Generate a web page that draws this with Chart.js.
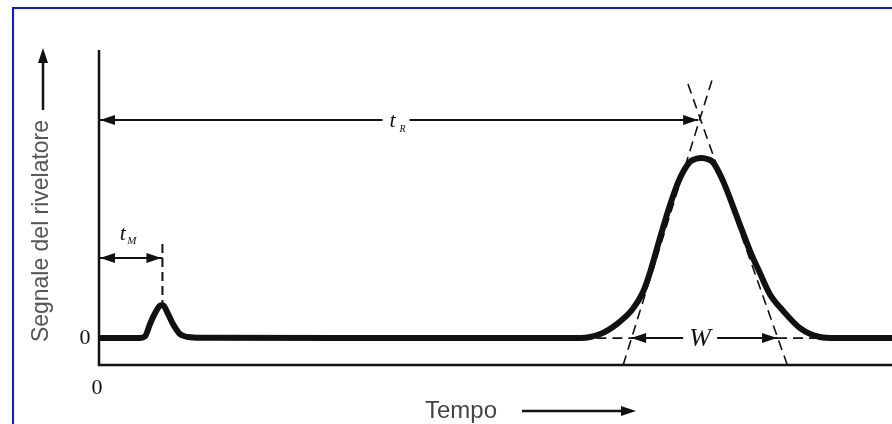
<!DOCTYPE html>
<html>
<head>
<meta charset="utf-8">
<script src="https://cdn.jsdelivr.net/npm/chart.js@4.4.0/dist/chart.umd.min.js"></script>
<style>
  html, body { margin: 0; padding: 0; background: #fff; }
  #wrap { position: relative; width: 892px; height: 424px; overflow: hidden; }
  #frame { position: absolute; left: 12px; top: 7px; width: 900px; height: 430px;
           border-top: 2px solid #0a14ff; border-left: 2px solid #0a14ff; }
  canvas { display: block; position: absolute; left: 0; top: 0; }
</style>
</head>
<body>
<div id="wrap">
  <div id="frame"></div>
  <canvas id="chart" width="892" height="424"></canvas>
</div>
<script>
// detector trace (time 0-100, signal 0 = baseline)
const time   = [0, 5.17, 5.8, 6.43, 7.06, 7.8, 8.07, 8.7, 9.33, 10.2, 11.2, 13, 30,
                60.7, 63.2, 65.3, 67.3, 68.6, 69.5, 70.7, 72.0, 73.2, 74.5, 75.3, 76.0, 76.8, 77.4, 78.7, 80.5, 82.1, 83.4, 84.6, 86.3, 88.4, 90.9, 92.8, 100];
const signal = [0, 0, 0.6, 5.2, 9.2, 12.2, 12.2, 9, 5.2, 1.5, 0.4, 0.1, 0,
                0, 1.5, 5.2, 10.8, 17.1, 24.5, 36.8, 49.4, 59, 65.4, 66.6, 66.9, 66.4, 65.4, 58.3, 44.6, 32.3, 23.8, 16.3, 10, 3.7, 0.4, 0, 0];

// tangents drawn on the big peak
const leftTangentX  = [66.1, 77.3];
const leftTangentY  = [-10, 95.8];
const rightTangentX = [86.8, 74.1];
const rightTangentY = [-10, 95.8];

// marked times and label heights
const tM = 8.0;
const tR = 75.8;
const tMArrowLevel = 29.7;
const tRArrowLevel = 81;
const wLeft = 67.1;
const wRight = 85.5;
const peakStart = 60.7;
const peakEnd = 90.9;

const ink = '#111';

function head(ctx, x, y, dir) {
  // filled arrow head, tip at (x,y); dir: 'l','r','u'
  ctx.beginPath();
  if (dir === 'l') { ctx.moveTo(x, y); ctx.lineTo(x + 15, y - 5); ctx.lineTo(x + 15, y + 5); }
  if (dir === 'r') { ctx.moveTo(x, y); ctx.lineTo(x - 15, y - 5); ctx.lineTo(x - 15, y + 5); }
  if (dir === 'u') { ctx.moveTo(x, y); ctx.lineTo(x - 5, y + 15); ctx.lineTo(x + 5, y + 15); }
  ctx.closePath();
  ctx.fill();
}

function hline(ctx, x1, x2, y, w) {
  ctx.lineWidth = w;
  ctx.beginPath(); ctx.moveTo(x1, y); ctx.lineTo(x2, y); ctx.stroke();
}

const annotations = {
  id: 'annotations',
  afterDatasetsDraw(chart) {
    const ctx = chart.ctx;
    const xs = chart.scales.x, ys = chart.scales.y;
    const area = chart.chartArea;
    ctx.save();
    ctx.strokeStyle = ink;
    ctx.fillStyle = ink;

    // axes
    ctx.lineWidth = 2.5;
    ctx.beginPath();
    ctx.moveTo(area.left, area.top);
    ctx.lineTo(area.left, area.bottom);
    ctx.lineTo(area.right, area.bottom);
    ctx.stroke();

    const y0 = ys.getPixelForValue(0);
    ctx.font = '22px "Liberation Serif"';
    ctx.textAlign = 'center';
    ctx.textBaseline = 'middle';
    ctx.fillText('0', area.left - 14, y0);
    ctx.fillText('0', area.left - 2, area.bottom + 23);

    // t_M
    const xM = xs.getPixelForValue(tM);
    const yM = ys.getPixelForValue(tMArrowLevel);
    hline(ctx, area.left, xM, yM, 2);
    head(ctx, area.left + 1, yM, 'l');
    head(ctx, xM - 1, yM, 'r');
    ctx.lineWidth = 2;
    ctx.setLineDash([9, 5]);
    ctx.beginPath();
    ctx.moveTo(xM, yM - 14);
    ctx.lineTo(xM, ys.getPixelForValue(13));
    ctx.stroke();
    ctx.setLineDash([]);
    ctx.font = 'italic 22px "Liberation Serif"';
    ctx.fillText('t', (area.left + xM) / 2 - 8, yM - 24);
    ctx.font = 'italic 11px "Liberation Serif"';
    ctx.fillText('M', (area.left + xM) / 2 + 1, yM - 17);

    // t_R
    const xR = xs.getPixelForValue(tR);
    const yR = ys.getPixelForValue(tRArrowLevel);
    const midR = (area.left + xR) / 2 - 4;
    hline(ctx, area.left, midR - 13, yR, 2);
    hline(ctx, midR + 14, xR - 2, yR, 2);
    head(ctx, area.left + 1, yR, 'l');
    head(ctx, xR - 2, yR, 'r');
    ctx.font = 'italic 22px "Liberation Serif"';
    ctx.fillText('t', midR - 3, yR + 1);
    ctx.font = 'italic 10px "Liberation Serif"';
    ctx.fillText('R', midR + 7, yR + 9);

    // W
    const xWl = xs.getPixelForValue(wLeft);
    const xWr = xs.getPixelForValue(wRight);
    const xWc = xs.getPixelForValue(tR);
    ctx.setLineDash([10, 6]);
    hline(ctx, xs.getPixelForValue(peakStart), xWl, y0, 1.6);
    hline(ctx, xWr, xs.getPixelForValue(peakEnd), y0, 1.6);
    ctx.setLineDash([]);
    hline(ctx, xWl, xWc - 17, y0, 2);
    hline(ctx, xWc + 17, xWr, y0, 2);
    head(ctx, xWl, y0, 'l');
    head(ctx, xWr, y0, 'r');
    ctx.font = 'italic 26px "Liberation Serif"';
    ctx.fillText('W', xWc, y0 + 1);

    // axis titles
    ctx.fillStyle = '#555';
    ctx.font = '24px "Liberation Sans"';
    const yTitle = 'Segnale del rivelatore';
    const k = 222 / ctx.measureText(yTitle).width;
    ctx.save();
    ctx.translate(41, 231);
    ctx.rotate(-Math.PI / 2);
    ctx.scale(k, 1);
    ctx.fillText(yTitle, 0, 0);
    ctx.restore();
    ctx.fillStyle = ink;
    ctx.lineWidth = 2.5;
    ctx.beginPath(); ctx.moveTo(43, 110); ctx.lineTo(43, 60); ctx.stroke();
    head(ctx, 43, 48, 'u');

    ctx.fillStyle = '#444';
    ctx.textAlign = 'left';
    ctx.fillText('Tempo', 425, 411);
    ctx.fillStyle = ink;
    hline(ctx, 522, 625, 411, 2.5);
    head(ctx, 636, 411, 'r');

    ctx.restore();
  }
};

new Chart(document.getElementById('chart'), {
  type: 'line',
  data: {
    datasets: [
      {
        label: 'segnale',
        data: time.map((t, i) => ({ x: t, y: signal[i] })),
        borderColor: ink,
        borderWidth: 6,
        pointRadius: 0,
        cubicInterpolationMode: 'monotone',
        fill: false
      },
      {
        label: 'tangente sinistra',
        data: leftTangentX.map((t, i) => ({ x: t, y: leftTangentY[i] })),
        borderColor: ink,
        borderWidth: 1.6,
        borderDash: [10, 6],
        pointRadius: 0
      },
      {
        label: 'tangente destra',
        data: rightTangentX.map((t, i) => ({ x: t, y: rightTangentY[i] })),
        borderColor: ink,
        borderWidth: 1.6,
        borderDash: [10, 6],
        pointRadius: 0
      }
    ]
  },
  options: {
    responsive: false,
    animation: false,
    layout: { padding: { left: 99, right: 0, top: 50, bottom: 59 } },
    plugins: { legend: { display: false }, tooltip: { enabled: false } },
    scales: {
      x: { type: 'linear', min: 0, max: 100, display: false },
      y: { type: 'linear', min: -10, max: 107, display: false }
    }
  },
  plugins: [annotations]
});
</script>
</body>
</html>
